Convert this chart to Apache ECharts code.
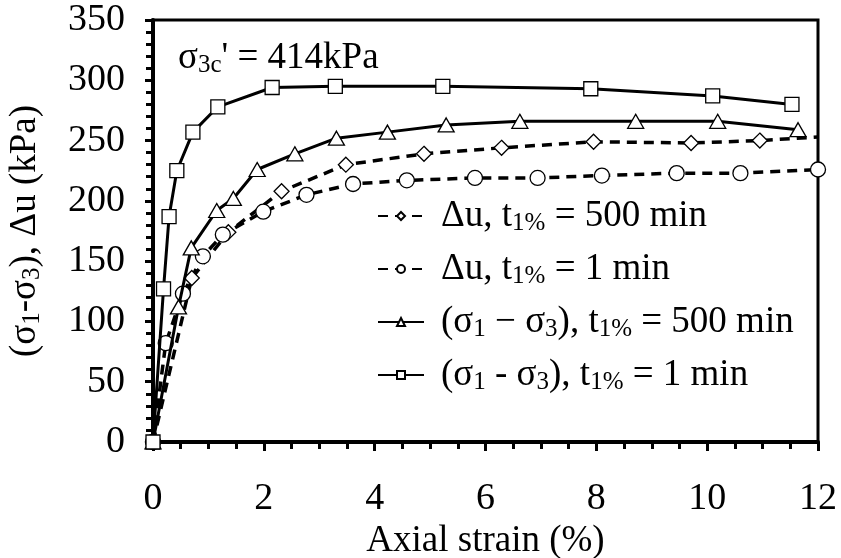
<!DOCTYPE html>
<html>
<head>
<meta charset="utf-8">
<script src="https://cdn.jsdelivr.net/npm/echarts@6/dist/echarts.min.js"></script>
<style>html,body{margin:0;padding:0;background:#fff}#c{width:841px;height:558px}</style>
</head>
<body>
<div id="c"></div>
<script>
// Δu, t1% = 500 min
const strainU500 = [0, 0.70, 1.36, 2.32, 3.48, 4.89, 6.29, 7.95, 9.71, 10.95, 12.0];
const duU500     = [0, 136, 174, 208, 230, 239, 244, 249, 248, 250, 253];
// Δu, t1% = 1 min
const strainU1 = [0, 0.23, 0.54, 0.90, 1.26, 1.99, 2.77, 3.61, 4.58, 5.81, 6.94, 8.10, 9.45, 10.60, 12.0];
const duU1     = [0, 82, 123, 154, 172, 191, 205, 214, 217, 219, 219, 221, 223, 223, 226];
// (σ1 − σ3), t1% = 500 min
const strainS500 = [0, 0.46, 0.69, 1.15, 1.45, 1.88, 2.56, 3.31, 4.23, 5.29, 6.62, 8.71, 10.19, 11.64];
const devS500    = [0, 112, 161, 192, 202, 226, 239, 252, 257, 263, 266, 266, 266, 259];
// (σ1 - σ3), t1% = 1 min
const strainS1 = [0, 0.19, 0.29, 0.43, 0.72, 1.17, 2.15, 3.29, 5.23, 7.90, 10.10, 11.53];
const devS1    = [0, 127, 187, 225, 257, 278, 294, 295, 295, 293, 287, 280];

const xTicks = [0, 2, 4, 6, 8, 10, 12];
const yTicks = [0, 50, 100, 150, 200, 250, 300, 350];

const names = [
  '{a|Δu, t}{s|1%}{a| = 500 min}',
  '{a|Δu, t}{s|1%}{a| = 1 min}',
  '{a|(σ}{s|1}{a| − σ}{s|3}{a|), t}{s|1%}{a| = 500 min}',
  '{a|(σ}{s|1}{a| - σ}{s|3}{a|), t}{s|1%}{a| = 1 min}'
];

const FONT = '"Liberation Serif", "Times New Roman", serif';
const FS = 37;
const rich = {
  a: {fontFamily: FONT, fontSize: FS, color: '#000', lineHeight: 40},
  s: {fontFamily: FONT, fontSize: 25, color: '#000', lineHeight: 40, verticalAlign: 'bottom', padding: [16, 0, 0, 0]}
};

function pairs(xs, ys) { return xs.map((x, i) => [x, ys[i]]); }

const mk = {color: '#fff', borderColor: '#000', borderWidth: 1.3};

const chart = echarts.init(document.getElementById('c'));
chart.setOption({
  animation: false,
  backgroundColor: '#fff',
  grid: {left: 153, right: 23, top: 20, bottom: 116, outerBoundsMode: 'none', containLabel: false,
    show: true, borderColor: '#000', borderWidth: 3, backgroundColor: 'transparent'},
  xAxis: {
    type: 'value', min: 0, max: 12, interval: 2,
    name: 'Axial strain (%)', nameLocation: 'middle', nameGap: 79,
    nameTextStyle: {fontFamily: FONT, fontSize: FS, color: '#000'},
    axisLine: {lineStyle: {color: '#000', width: 4}},
    axisTick: {show: true, length: 9, lineStyle: {color: '#000', width: 3}},
    minorTick: {show: true, splitNumber: 4, length: 7, lineStyle: {color: '#000', width: 3}},
    splitLine: {show: false},
    axisLabel: {fontFamily: FONT, fontSize: 38, color: '#000', margin: 38,
      formatter: v => xTicks.includes(v) ? String(v) : ''}
  },
  yAxis: {
    type: 'value', min: 0, max: 350, interval: 50,
    name: '{a|(σ}{s|1}{a|-σ}{s|3}{a|), Δu (kPa)}', nameLocation: 'middle', nameGap: 108,
    nameRotate: 90,
    nameTextStyle: {rich: rich},
    axisLine: {lineStyle: {color: '#000', width: 4}},
    axisTick: {show: true, length: 8, lineStyle: {color: '#000', width: 3}},
    minorTick: {show: true, splitNumber: 5, length: 7, lineStyle: {color: '#000', width: 3}},
    splitLine: {show: false},
    axisLabel: {fontFamily: FONT, fontSize: 38, color: '#000', margin: 28,
      formatter: v => yTicks.includes(v) ? String(v) : ''}
  },
  legend: {
    orient: 'vertical', left: 372, top: 190, itemGap: 12,
    itemWidth: 46, itemHeight: 10,
    textStyle: {rich: rich, padding: [0, 0, 0, 12]},
    formatter: n => n,
    data: names
  },
  graphic: [{
    type: 'text', left: 178, top: 37,
    style: {text: "{a|σ}{s|3c}{a|' = 414kPa}", rich: rich}
  }],
  series: [
    {name: names[0], type: 'line', data: pairs(strainU500, duU500).map((p, i, arr) => i === arr.length - 1 ? {value: p, symbol: 'none'} : p),
      symbol: 'diamond', symbolSize: 15, showSymbol: true,
      lineStyle: {color: '#000', width: 3.5, type: [10, 7]}, itemStyle: mk, z: 3},
    {name: names[1], type: 'line', data: pairs(strainU1, duU1),
      symbol: 'circle', symbolSize: 15,
      lineStyle: {color: '#000', width: 3.5, type: [10, 7]}, itemStyle: mk, z: 3},
    {name: names[2], type: 'line', data: pairs(strainS500, devS500),
      symbol: 'triangle', symbolSize: [16, 14],
      lineStyle: {color: '#000', width: 3}, itemStyle: mk, z: 4},
    {name: names[3], type: 'line', data: pairs(strainS1, devS1),
      symbol: 'rect', symbolSize: 14,
      lineStyle: {color: '#000', width: 3}, itemStyle: mk, z: 4}
  ]
});
</script>
</body>
</html>
